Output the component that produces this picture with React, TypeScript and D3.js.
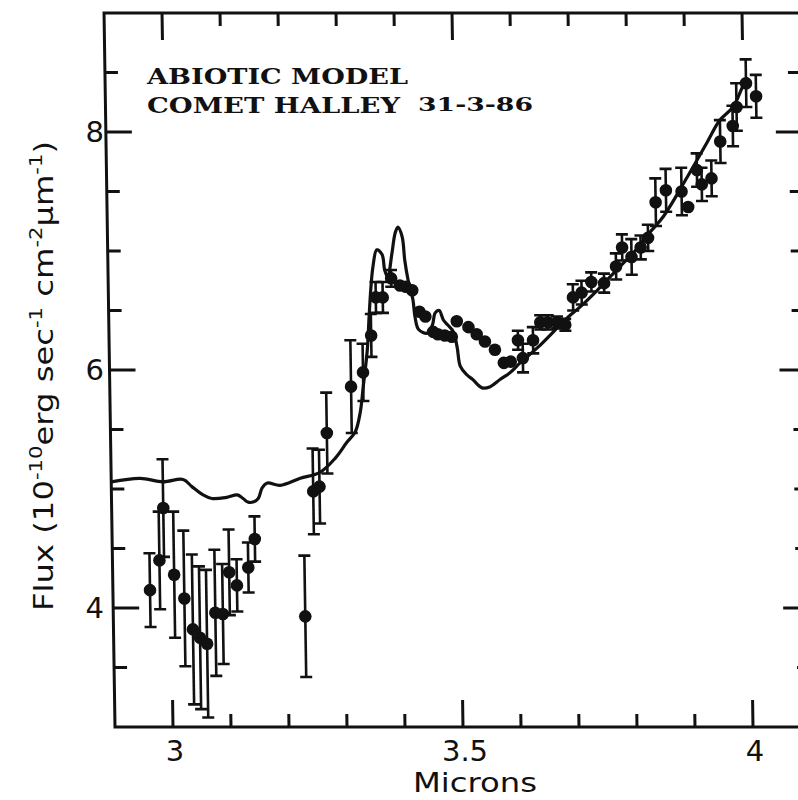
import React from 'react';
import * as d3 from 'd3';

// model curve (abiotic), microns vs flux
const modelMicrons = [
  2.9, 2.95, 2.989, 3.024, 3.039, 3.058, 3.073, 3.099, 3.117, 3.127, 3.135, 3.144, 3.153, 3.16, 3.169,
  3.191, 3.226, 3.26, 3.287, 3.307, 3.322, 3.331, 3.337, 3.345, 3.349, 3.353, 3.357, 3.364, 3.373,
  3.377, 3.382, 3.39, 3.396, 3.401, 3.408, 3.412, 3.417, 3.425, 3.428, 3.434, 3.449, 3.458, 3.463,
  3.47, 3.477, 3.484, 3.494, 3.5, 3.505, 3.516, 3.526, 3.542, 3.556, 3.573, 3.591, 3.608, 3.639,
  3.691, 3.713, 3.743, 3.781, 3.811, 3.834, 3.859, 3.901, 3.936, 3.959, 3.982, 3.999, 4.008,
];
const modelFlux = [
  5.06, 5.09, 5.06, 5.08, 5.02, 4.95, 4.92, 4.93, 4.95, 4.92, 4.89, 4.89, 4.92, 5.01, 5.05,
  5.03, 5.09, 5.14, 5.26, 5.39, 5.48, 5.64, 5.86, 6.17, 6.45, 6.7, 6.87, 7.01, 6.97,
  6.84, 6.78, 6.98, 7.15, 7.2, 7.12, 6.92, 6.76, 6.59, 6.45, 6.34, 6.31, 6.38, 6.48,
  6.5, 6.42, 6.38, 6.32, 6.19, 6.03, 5.96, 5.92, 5.85, 5.86, 5.92, 5.98, 6.06, 6.19,
  6.44, 6.53, 6.67, 6.86, 7.01, 7.15, 7.29, 7.62, 7.91, 8.1, 8.21, 8.38, 8.46,
];

// observed points with error bars (0 = no bar drawn)
const obsMicrons = [
  2.964, 2.981, 2.989, 3.006, 3.023, 3.037, 3.049, 3.061, 3.076, 3.089, 3.101, 3.114, 3.134, 3.146,
  3.231, 3.248, 3.259, 3.273, 3.316, 3.337, 3.352, 3.361, 3.373, 3.388, 3.403, 3.413, 3.424, 3.436,
  3.446, 3.459, 3.467, 3.479, 3.491, 3.5, 3.52, 3.534, 3.548, 3.565, 3.58, 3.592, 3.605, 3.613,
  3.631, 3.644, 3.657, 3.673, 3.687, 3.701, 3.716, 3.733, 3.755, 3.776, 3.787, 3.803, 3.819, 3.832,
  3.846, 3.864, 3.891, 3.902, 3.918, 3.926, 3.943, 3.959, 3.981, 3.988, 4.005, 4.022,
];
const obsFlux = [
  4.15, 4.4, 4.84, 4.28, 4.08, 3.82, 3.75, 3.7, 3.96, 3.95, 4.3, 4.19, 4.34, 4.58,
  3.93, 4.98, 5.02, 5.47, 5.86, 5.98, 6.29, 6.61, 6.61, 6.77, 6.71, 6.7, 6.67, 6.49,
  6.45, 6.32, 6.3, 6.29, 6.28, 6.41, 6.36, 6.3, 6.24, 6.17, 6.06, 6.07, 6.25, 6.1,
  6.25, 6.4, 6.4, 6.4, 6.38, 6.61, 6.65, 6.74, 6.73, 6.87, 7.03, 6.95, 7.03, 7.11,
  7.41, 7.51, 7.5, 7.37, 7.68, 7.56, 7.61, 7.92, 8.05, 8.21, 8.41, 8.3,
];
const obsErr = [
  0.31, 0.41, 0.41, 0.53, 0.57, 0.63, 0.6, 0.62, 0.53, 0.42, 0.36, 0.22, 0.21, 0.19,
  0.51, 0.36, 0.31, 0.34, 0.39, 0.24, 0.18, 0.13, 0.13, 0.07, 0, 0, 0, 0,
  0, 0, 0, 0, 0, 0, 0, 0, 0, 0, 0, 0, 0.08, 0.12,
  0.11, 0.06, 0.06, 0.05, 0.05, 0.11, 0.1, 0.08, 0.08, 0.11, 0.11, 0.15, 0.1, 0.11,
  0.2, 0.18, 0.2, 0, 0.14, 0.14, 0.15, 0.18, 0.17, 0.2, 0.2, 0.18,
];

const xMajor = [3, 3.5, 4];
const xMinor = d3.range(30, 42).map(d => d / 10);
const yMajor = [4, 6, 8];
const yMinor = d3.range(7, 18).map(d => d / 2);

const width = 798;
const height = 800;
const left = 115, right = 811, top = 13, bottom = 727;

const App = () => {
  const x = d3.scaleLinear().domain([2.9, 4.1]).range([left, right]);
  const y = d3.scaleLinear().domain([3, 9]).range([bottom, top]);

  const pts = modelMicrons.map((m, i) => [m, modelFlux[i]] as [number, number]);
  const line = d3.line<[number, number]>()
    .x(d => x(d[0]))
    .y(d => y(d[1]))
    .curve(d3.curveCatmullRom.alpha(0.5));

  // the scanned figure is slightly sheared (verticals lean left at the top)
  const shear = `translate(0,${bottom}) skewX(0.88) translate(0,${-bottom})`;
  const ink = '#111';
  const sans = '"DejaVu Sans", sans-serif';
  const serif = '"DejaVu Serif", serif';

  return (
    <svg width={width} height={height} style={{ position: 'absolute', left: 0, top: 0, background: '#fff' }}>
      <rect width={width} height={height} fill="#fff" />
      <g transform={shear}>
        <rect x={left} y={top} width={right - left} height={bottom - top} fill="none" stroke={ink} strokeWidth={3} />
        {xMinor.map(t => {
          const len = xMajor.includes(t) ? 27 : 13;
          return (
            <g key={'x' + t}>
              <line x1={x(t)} x2={x(t)} y1={bottom} y2={bottom - len} stroke={ink} strokeWidth={3} />
              <line x1={x(t)} x2={x(t)} y1={top} y2={top + len} stroke={ink} strokeWidth={3} />
            </g>
          );
        })}
        {yMinor.map(t => {
          const len = yMajor.includes(t) ? 26 : 13;
          return (
            <g key={'y' + t}>
              <line x1={left} x2={left + len} y1={y(t)} y2={y(t)} stroke={ink} strokeWidth={3} />
              <line x1={right} x2={right - len} y1={y(t)} y2={y(t)} stroke={ink} strokeWidth={3} />
            </g>
          );
        })}
        <path d={line(pts) || ''} fill="none" stroke={ink} strokeWidth={3.2} strokeLinejoin="round" />
        {obsMicrons.map((m, i) => {
          const cx = x(m);
          const e = obsErr[i];
          return (
            <g key={'o' + i}>
              {e > 0 && (
                <g stroke={ink} strokeWidth={2.6}>
                  <line x1={cx} x2={cx} y1={y(obsFlux[i] - e)} y2={y(obsFlux[i] + e)} />
                  <line x1={cx - 6} x2={cx + 6} y1={y(obsFlux[i] + e)} y2={y(obsFlux[i] + e)} />
                  <line x1={cx - 6} x2={cx + 6} y1={y(obsFlux[i] - e)} y2={y(obsFlux[i] - e)} />
                </g>
              )}
              <circle cx={cx} cy={y(obsFlux[i])} r={6.3} fill={ink} />
            </g>
          );
        })}
      </g>

      {yMajor.map(t => (
        <text key={'yl' + t} x={104} y={y(t) + 10} textAnchor="end" fontFamily={sans} fontSize={29} fill={ink}>
          {t}
        </text>
      ))}
      {xMajor.map(t => (
        <text key={'xl' + t} x={x(t) + 2} y={761} textAnchor="middle" fontFamily={sans} fontSize={29} fill={ink}>
          {t}
        </text>
      ))}
      <text x={413} y={792} fontFamily={sans} fontSize={26} fontWeight={500} fill={ink}
        textLength={124} lengthAdjust="spacingAndGlyphs">Microns</text>

      <text transform="translate(53,376) rotate(-90)" textAnchor="middle" fontFamily={sans} fontSize={26} fill={ink}
        textLength={470} lengthAdjust="spacingAndGlyphs">
        Flux (10
        <tspan dy={-11} fontSize={17}>-10</tspan>
        <tspan dy={11}>erg sec</tspan>
        <tspan dy={-11} fontSize={17}>-1</tspan>
        <tspan dy={11}> cm</tspan>
        <tspan dy={-11} fontSize={17}>-2</tspan>
        <tspan dy={11}>μm</tspan>
        <tspan dy={-11} fontSize={17}>-1</tspan>
        <tspan dy={11}>)</tspan>
      </text>

      <text x={147} y={84} fontFamily={serif} fontWeight="bold" fontSize={23} fill={ink}
        textLength={261} lengthAdjust="spacingAndGlyphs">ABIOTIC MODEL</text>
      <text x={147} y={113} fontFamily={serif} fontWeight="bold" fontSize={23} fill={ink}
        textLength={253} lengthAdjust="spacingAndGlyphs">COMET HALLEY</text>
      <text x={418} y={111} fontFamily={serif} fontWeight="bold" fontSize={19} fill={ink}
        textLength={115} lengthAdjust="spacingAndGlyphs">31-3-86</text>
    </svg>
  );
};

export default App;
